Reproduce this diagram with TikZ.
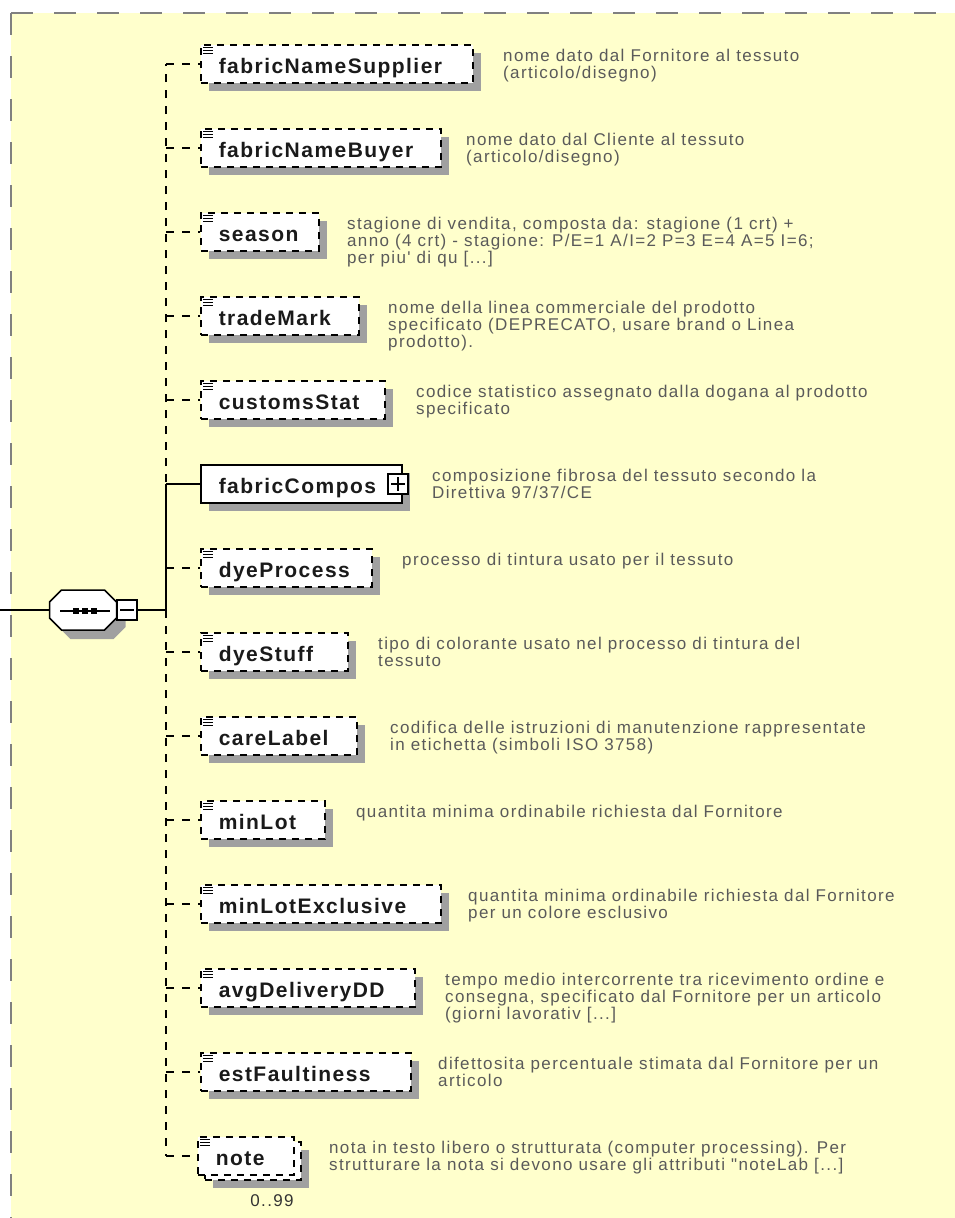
\documentclass[tikz,border=0pt]{standalone}
\usepackage{fontspec}
\newfontfamily\elemfont[LetterSpace=7]{Liberation Sans}
\newfontfamily\notefont[LetterSpace=8, Ligatures=TeXOff]{Liberation Sans}
\usetikzlibrary{positioning, shadows}
\definecolor{SpyYellow}{HTML}{FFFFCC}
\definecolor{SpyFrame}{HTML}{808080}
\definecolor{SpyShadow}{HTML}{A0A0A0}
\definecolor{SpyText}{HTML}{5A5A5A}
\definecolor{SpyName}{HTML}{1A1A1A}

\tikzset{
  optline/.style={line width=1.5pt, dash pattern=on 8pt off 8pt},
  reqline/.style={line width=1.5pt},
  elembox/.style={draw, fill=white, line width=1.5pt, minimum height=38pt,
    inner xsep=18pt, inner ysep=0pt, align=left, anchor=west, text=SpyName,
    text height=19pt, text depth=0pt,
    font=\elemfont\bfseries\fontsize{21pt}{24pt}\selectfont},
  optbox/.style={elembox, dash pattern=on 7pt off 6pt},
  shadowed/.style={drop shadow={shadow xshift=8pt, shadow yshift=-8pt,
    fill=SpyShadow, draw=none, opacity=1}},
  btnbox/.style={draw, fill=white, line width=1.2pt, minimum size=20pt, inner sep=0pt},
  desctext/.style={anchor=north west, inner sep=0pt, align=left, text=SpyText,
    font=\notefont\fontsize{17pt}{17pt}\selectfont},
}

\begin{document}
\begin{tikzpicture}[x=1pt, y=-1pt]
    \useasboundingbox (0,0) rectangle (955,1218);
    \fill[white] (0,0) rectangle (955,1218);

    % Frame
    \fill[SpyYellow] (11,13) rectangle (955,1218);
    \draw[SpyFrame, line width=2pt, dash pattern=on 22pt off 21pt] (11,13) -- (955,13);
    \draw[SpyFrame, line width=2pt, dash pattern=on 22pt off 21pt] (11,13) -- (11,1218);

    % Sequence compositor
    \begin{scope}[shift={(83,610)}]
        \fill[SpyShadow, shift={(9,9)}] (-33.5,-8) -- (-21.5,-20) -- (21.5,-20) -- (33.5,-8)
            -- (33.5,8) -- (21.5,20) -- (-21.5,20) -- (-33.5,8) -- cycle;
        \node[minimum width=67pt, minimum height=40pt, inner sep=0pt] (seq) at (0,0) {};
        \draw[fill=white, line width=1.5pt] (-33.5,-8) -- (-21.5,-20) -- (21.5,-20) -- (33.5,-8)
            -- (33.5,8) -- (21.5,20) -- (-21.5,20) -- (-33.5,8) -- cycle;
        \draw[line width=1.5pt] (-23,1) -- (27,1);
        \foreach \dx in {-7,2,10.5}
            \fill (\dx-3,-2) rectangle (\dx+3,4);
        \node[btnbox] (seq-btn) at (44,0) {};
        \draw[line width=1.2pt] ([xshift=4pt]seq-btn.west) -- ([xshift=-4pt]seq-btn.east);
    \end{scope}
    \coordinate (seq-in) at (0,610);
    \coordinate (hub) at (166,610);

    % Elements
    \node[optbox, shadowed, text width=236pt] (fabricNameSupplier) at (200,64) {fabricNameSupplier};
    \node[optbox, shadowed, text width=204pt] (fabricNameBuyer) at (200,148) {fabricNameBuyer};
    \node[optbox, shadowed, text width=82pt] (season) at (200,232) {season};
    \node[optbox, shadowed, text width=122pt] (tradeMark) at (200,316) {tradeMark};
    \node[optbox, shadowed, text width=148pt] (customsStat) at (200,400) {customsStat};
    \node[elembox, shadowed, text width=165pt] (fabricCompos) at (200,484) {fabricCompos};
    \node[btnbox] (fabricCompos-btn) at (398,484) {};
    \draw[line width=1.2pt] ([xshift=4pt]fabricCompos-btn.west) -- ([xshift=-4pt]fabricCompos-btn.east);
    \draw[line width=1.2pt] ([yshift=-4pt]fabricCompos-btn.north) -- ([yshift=4pt]fabricCompos-btn.south);
    \node[optbox, shadowed, text width=135pt] (dyeProcess) at (200,568) {dyeProcess};
    \node[optbox, shadowed, text width=111pt] (dyeStuff) at (200,652) {dyeStuff};
    \node[optbox, shadowed, text width=120pt] (careLabel) at (200,736) {careLabel};
    \node[optbox, shadowed, text width=88pt] (minLot) at (200,820) {minLot};
    \node[optbox, shadowed, text width=204pt] (minLotExclusive) at (200,904) {minLotExclusive};
    \node[optbox, shadowed, text width=178pt] (avgDeliveryDD) at (200,988) {avgDeliveryDD};
    \node[optbox, shadowed, text width=174pt] (estFaultiness) at (200,1072) {estFaultiness};
    \node[optbox, shadowed, text width=60pt] (note-back) at (204,1161) {};
    \node[optbox, text width=60pt] (note) at (197,1156) {note};
    \node[desctext, anchor=center, text=black!80] (note-occ) at (272,1201) {0..99};

    % Simple type icons
    \foreach \e in {fabricNameSupplier, fabricNameBuyer, season, tradeMark, customsStat,
        dyeProcess, dyeStuff, careLabel, minLot, minLotExclusive, avgDeliveryDD,
        estFaultiness, note}
        \foreach \dy in {3,6,9}
            \draw[line width=1pt] ([shift={(3,\dy)}]\e.north west) -- +(10,0);

    % Connectors
    \draw[reqline] (seq-in) -- (seq.west);
    \draw[reqline] (seq-btn.east) -- (hub);
    \draw[optline] (hub) -- (hub |- fabricNameSupplier.west);
    \draw[optline] (hub) -- (hub |- note.west);
    \draw[reqline] (hub) -- (hub |- fabricCompos.west);
    \foreach \e in {fabricNameSupplier, fabricNameBuyer, season, tradeMark, customsStat,
        dyeProcess, dyeStuff, careLabel, minLot, minLotExclusive, avgDeliveryDD,
        estFaultiness, note}
        \draw[optline] (hub |- \e.west) -- (\e.west);
    \draw[reqline] (hub |- fabricCompos.west) -- (fabricCompos.west);

    % Documentation
    \node[desctext] (fabricNameSupplier-doc) at (503,49) {nome dato dal Fornitore al tessuto\\(articolo/disegno)};
    \node[desctext] (fabricNameBuyer-doc) at (466,133) {nome dato dal Cliente al tessuto\\(articolo/disegno)};
    \node[desctext] (season-doc) at (347,217) {stagione di vendita, composta da: stagione (1 crt) +\\anno (4 crt) - stagione: P/E=1 A/I=2 P=3 E=4 A=5 I=6;\\per piu' di qu [...]};
    \node[desctext] (tradeMark-doc) at (388,301) {nome della linea commerciale del prodotto\\specificato (DEPRECATO, usare brand o Linea\\prodotto).};
    \node[desctext] (customsStat-doc) at (416,385) {codice statistico assegnato dalla dogana al prodotto\\specificato};
    \node[desctext] (fabricCompos-doc) at (432,469) {composizione fibrosa del tessuto secondo la\\Direttiva 97/37/CE};
    \node[desctext] (dyeProcess-doc) at (402,553) {processo di tintura usato per il tessuto};
    \node[desctext] (dyeStuff-doc) at (378,637) {tipo di colorante usato nel processo di tintura del\\tessuto};
    \node[desctext] (careLabel-doc) at (390,721) {codifica delle istruzioni di manutenzione rappresentate\\in etichetta (simboli ISO 3758)};
    \node[desctext] (minLot-doc) at (356,805) {quantita minima ordinabile richiesta dal Fornitore};
    \node[desctext] (minLotExclusive-doc) at (468,889) {quantita minima ordinabile richiesta dal Fornitore\\per un colore esclusivo};
    \node[desctext] (avgDeliveryDD-doc) at (445,973) {tempo medio intercorrente tra ricevimento ordine e\\consegna, specificato dal Fornitore per un articolo\\(giorni lavorativ [...]};
    \node[desctext] (estFaultiness-doc) at (438,1057) {difettosita percentuale stimata dal Fornitore per un\\articolo};
    \node[desctext] (note-doc) at (329,1141) {nota in testo libero o strutturata (computer processing). Per\\strutturare la nota si devono usare gli attributi "noteLab [...]};
\end{tikzpicture}
\end{document}
